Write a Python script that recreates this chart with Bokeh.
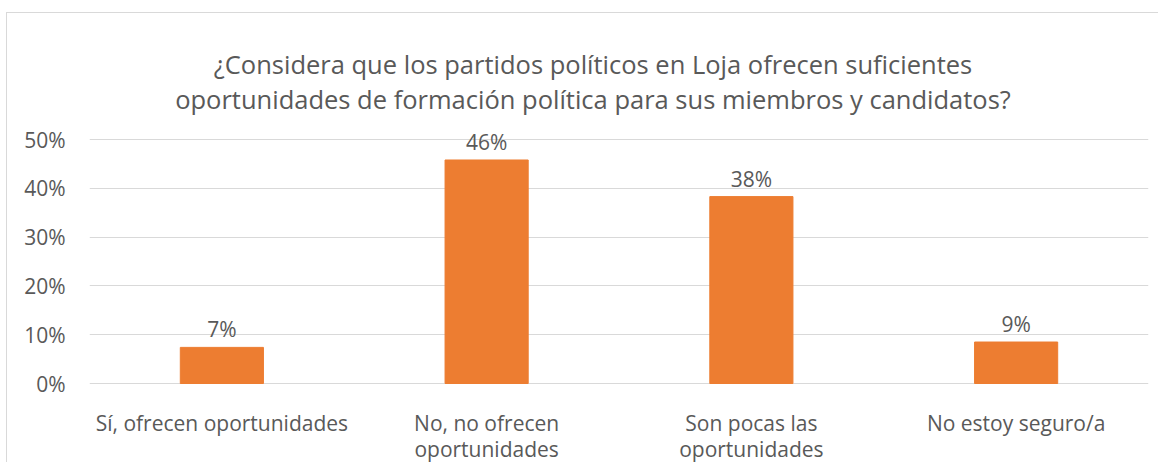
from bokeh.plotting import figure
from bokeh.models import FactorRange, Range1d, FixedTicker, NumeralTickFormatter
from bokeh.core.properties import value
from bokeh.embed import file_html
from bokeh.resources import INLINE

title_lines = ["¿Considera que los partidos políticos en Loja ofrecen suficientes",
               "oportunidades de formación política para sus miembros y candidatos?"]
categories = ["Sí, ofrecen oportunidades", "No, no ofrecen oportunidades",
              "Son pocas las oportunidades", "No estoy seguro/a"]
tick_labels = ["Sí, ofrecen oportunidades", "No, no ofrecen\noportunidades",
               "Son pocas las\noportunidades", "No estoy seguro/a"]
shares = [0.074, 0.458, 0.383, 0.085]
value_labels = ["7%", "46%", "38%", "9%"]
y_ticks = [0, 0.1, 0.2, 0.3, 0.4, 0.5]

FONT = "Open Sans"
TXT = "#595959"

# layout (pixels)
W, H = 1152, 450
LEFT, RIGHT = 82, 11
PX_PER_UNIT = 488.0          # pixels for 100 %
ZERO_FROM_TOP = 370          # pixel row of the 0 % line inside the canvas
y_top = ZERO_FROM_TOP / PX_PER_UNIT
y_bot = -(H - ZERO_FROM_TOP) / PX_PER_UNIT

p = figure(x_range=FactorRange(*categories), y_range=Range1d(y_bot, y_top),
           width=W, height=H, output_backend="svg", toolbar_location=None,
           min_border_left=LEFT, min_border_right=RIGHT, min_border_top=0, min_border_bottom=0,
           styles={"border-left": "1px solid #d9d9d9", "border-top": "1px solid #d9d9d9"})
p.margin = (12, 0, 0, 6)
p.outline_line_color = None
p.background_fill_color = "white"

p.vbar(x=categories, top=shares, width=0.314, color="#ED7D31")
p.text(x=categories, y=shares, text=value_labels, text_align="center",
       text_baseline="alphabetic", y_offset=-18, text_font=value(FONT),
       text_font_size="21px", text_color=TXT)

p.xgrid.grid_line_color = None
p.ygrid.grid_line_color = "#d9d9d9"
p.ygrid.grid_line_width = 1
p.ygrid.ticker = FixedTicker(ticks=y_ticks)
p.yaxis.ticker = FixedTicker(ticks=y_ticks)
p.yaxis.formatter = NumeralTickFormatter(format="0%")
ax = p.yaxis[0]
ax.axis_line_color = None
ax.major_tick_line_color = None
ax.minor_tick_line_color = None
ax.major_tick_out = 0
ax.major_tick_in = 0
ax.major_label_text_font = FONT
ax.major_label_text_font_size = "21px"
ax.major_label_text_color = TXT
ax.major_label_standoff = 24
p.xaxis.visible = False

# category labels under the 0 % line
lines1 = [t.split("\n")[0] for t in tick_labels]
lines2 = [t.split("\n")[1] if "\n" in t else "" for t in tick_labels]
zeros = [0] * len(categories)
for txt, off in ((lines1, 39), (lines2, 65)):
    p.text(x=categories, y=zeros, text=txt, text_align="center", text_baseline="alphabetic",
           y_offset=off, text_font=value(FONT), text_font_size="21px", text_color=TXT)

# two-line title, centred on the chart area
n = len(categories)
for txt, off in ((title_lines[0], -320), (title_lines[1], -285)):
    p.text(x=[n / 2], y=[0], text=[txt], text_align="center", text_baseline="alphabetic",
           x_offset=-26, y_offset=off, text_font=value(FONT), text_font_size="25.5px",
           text_color=TXT)

open("out.html", "w").write(file_html(p, INLINE))
